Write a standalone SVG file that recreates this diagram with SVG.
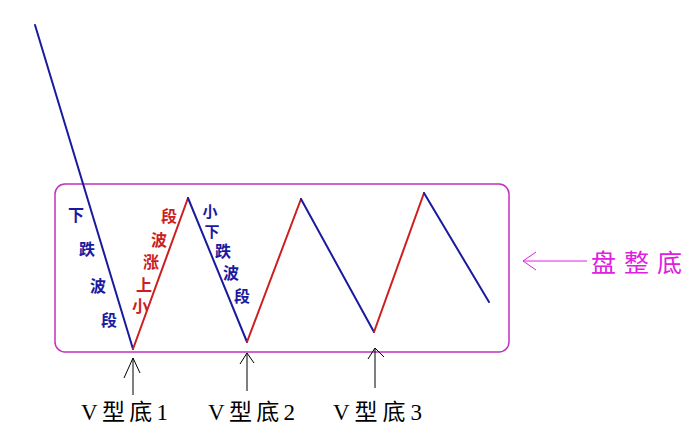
<svg xmlns="http://www.w3.org/2000/svg" width="685" height="435" viewBox="0 0 685 435">
<style>
.blue{stroke:#1a1aa0;stroke-width:2;fill:none;stroke-linecap:round}
.red{stroke:#cc2020;stroke-width:2;fill:none;stroke-linecap:round}
.arr{stroke:#000;stroke-width:1;fill:none}
.cb{font-family:"Noto Sans CJK SC","Noto Sans CJK TC",sans-serif;font-size:16px;font-weight:bold;fill:#1a1aa0;text-anchor:middle}
.cr{font-family:"Noto Sans CJK SC","Noto Sans CJK TC",sans-serif;font-size:16px;font-weight:bold;fill:#cc2020;text-anchor:middle}
.sm{font-size:15px}
.lab{font-family:"Liberation Serif","Noto Sans CJK SC",serif;font-size:23px;fill:#000}
.mag{font-family:"Noto Sans CJK SC",sans-serif;font-size:25px;fill:#e020e0}
</style>
<g id="box">
<rect x="55" y="184" width="454" height="168" rx="10" ry="10" fill="none" stroke="#c030c0" stroke-width="1.5"/>
</g>
<g id="connectors">
<polyline class="blue" points="35,25 133,349"/>
<polyline class="red" points="133,349 188,198"/>
<polyline class="blue" points="188,198 247,342"/>
<polyline class="red" points="247,342 301,199"/>
<polyline class="blue" points="301,199 374,332"/>
<polyline class="red" points="374,332 424,193"/>
<polyline class="blue" points="424,193 489,302"/>
<path class="arr" d="M133,395 V358 M124,378 L133,358 L140,373"/>
<path class="arr" d="M247,391 V353 M240,364 L247,353 L254,363"/>
<path class="arr" d="M375,388 V348 M368,359 L375,348 L384,357"/>
<path d="M587,261 H523 M536,252 L523,261 L536,270" stroke="#e020e0" stroke-width="1" fill="none"/>
</g>
<g id="label-down1">
<text class="cb" x="76" y="221">下</text>
<text class="cb" x="87" y="255">跌</text>
<text class="cb" x="98" y="292">波</text>
<text class="cb" x="109" y="326">段</text>
</g>
<g id="label-up">
<text class="cr" x="169" y="222">段</text>
<text class="cr" x="159" y="246">波</text>
<text class="cr" x="151" y="268">涨</text>
<text class="cr" x="144" y="291">上</text>
<text class="cr" x="140" y="312">小</text>
</g>
<g id="label-down2">
<text class="cb sm" x="210" y="217">小</text>
<text class="cb sm" x="212" y="237">下</text>
<text class="cb" x="223" y="257">跌</text>
<text class="cb" x="231" y="279">波</text>
<text class="cb" x="242" y="302">段</text>
</g>
<g id="v1"><text class="lab" x="81" y="420" textLength="87">V型底1</text></g>
<g id="v2"><text class="lab" x="208" y="420" textLength="87">V型底2</text></g>
<g id="v3"><text class="lab" x="333" y="420" textLength="89">V型底3</text></g>
<g id="consolidation"><text class="mag" x="591" y="272" textLength="91">盘整底</text></g>
</svg>
